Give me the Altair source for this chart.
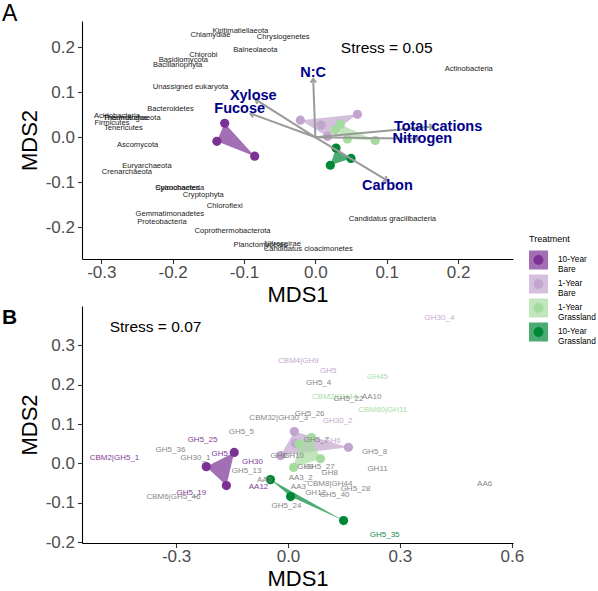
import math
import altair as alt
import pandas as pd

FONT = "Liberation Sans"
TREATMENTS = ["10-Year Bare", "1-Year Bare", "1-Year Grassland", "10-Year Grassland"]
PALETTE = ["#7b3294", "#c2a5cf", "#a6dba0", "#008837"]
GREY_LABEL = "#7f7f7f"

# ---------------- Panel A: taxa NMDS ----------------
a_site_group = (["10-Year Bare"] * 3 + ["1-Year Bare"] * 4
                + ["1-Year Grassland"] * 4 + ["10-Year Grassland"] * 3)
a_site_mds1 = [-0.127, -0.138, -0.085,
               -0.021, 0.059, 0.008, 0.017,
               0.035, 0.028, 0.045, 0.084,
               0.029, 0.050, 0.021]
a_site_mds2 = [0.031, -0.009, -0.042,
               0.038, 0.051, 0.027, 0.002,
               0.029, 0.016, -0.004, -0.007,
               -0.024, -0.047, -0.062]

a_taxa = ["Kiritimatiellaeota", "Chlamydiae", "Chrysiogenetes", "Balneolaeota",
          "Chlorobi", "Basidiomycota", "Bacillariophyta", "Unassigned eukaryota",
          "Bacteroidetes", "Acidobacteria", "Thaumarchaeota", "Thermotogae",
          "Firmicutes", "Tenericutes", "Ascomycota", "Euryarchaeota",
          "Crenarchaeota", "Cyanobacteria", "Spirochaetes", "Cryptophyta",
          "Chloroflexi", "Gemmatimonadetes", "Proteobacteria",
          "Coprothermobacterota", "Planctomycetes", "Nitrospirae",
          "Candidatus cloacimonetes", "Candidatus gracilibacteria", "Actinobacteria"]
a_taxa_mds1 = [-0.105, -0.147, -0.045, -0.084,
               -0.157, -0.185, -0.193, -0.175,
               -0.203, -0.278, -0.257, -0.266,
               -0.285, -0.269, -0.249, -0.236,
               -0.264, -0.190, -0.193, -0.157,
               -0.127, -0.204, -0.215,
               -0.116, -0.077, -0.046,
               -0.010, 0.108, 0.215]
a_taxa_mds2 = [0.236, 0.227, 0.222, 0.193,
               0.182, 0.171, 0.160, 0.111,
               0.062, 0.047, 0.042, 0.042,
               0.031, 0.020, -0.018, -0.064,
               -0.078, -0.113, -0.113, -0.127,
               -0.153, -0.171, -0.187,
               -0.207, -0.238, -0.236,
               -0.247, -0.182, 0.151]

a_vectors = ["N:C", "Total cations", "Nitrogen", "Carbon", "Xylose", "Fucose"]
a_vec_mds1 = [-0.003, 0.165, 0.145, 0.101, -0.084, -0.091]
a_vec_mds2 = [0.130, 0.024, -0.003, -0.096, 0.084, 0.053]
a_vec_lab_mds1 = [-0.003, 0.172, 0.150, 0.101, -0.087, -0.106]
a_vec_lab_mds2 = [0.142, 0.022, -0.004, -0.109, 0.091, 0.062]

# ---------------- Panel B: CAZyme NMDS ----------------
b_site_group = (["10-Year Bare"] * 3 + ["1-Year Bare"] * 4
                + ["1-Year Grassland"] * 4 + ["10-Year Grassland"] * 3)
b_site_mds1 = [-0.144, -0.219, -0.165,
               0.017, -0.020, 0.162, 0.020,
               0.063, 0.087, 0.015, 0.030,
               -0.047, 0.007, 0.149]
b_site_mds2 = [0.028, -0.008, -0.056,
               0.081, 0.020, 0.041, 0.051,
               0.066, 0.012, -0.010, 0.050,
               -0.041, -0.084, -0.145]

b_genes = ["GH30_4", "CBM4|GH9", "GH5", "GH5_4", "GH45", "CBM2|GH44", "GH5_22",
           "AA10", "CBM60|GH11", "GH5_26", "CBM32|GH30_3", "GH30_2", "GH5_5",
           "GH5_25", "GH5_36", "GH5", "GH30_1", "CBM2|GH5_1", "GH30", "GH5_13",
           "AA5", "AA12", "GH5_19", "CBM6|GH5_46", "GH5_24", "GH5_35", "AA6",
           "GH11", "GH5_8", "GH5_28", "GH5_40", "CBM8|GH44", "GH12", "AA3",
           "AA3_2", "GH8", "GH5_27", "GH9", "GH6", "GH10", "GH5_7", "GH6"]
b_gene_group = ["1-Year Bare", "1-Year Bare", "1-Year Bare", "none", "1-Year Grassland",
                "1-Year Grassland", "none", "none", "1-Year Grassland", "none", "none",
                "1-Year Bare", "none", "10-Year Bare", "none", "10-Year Bare", "none",
                "10-Year Bare", "10-Year Bare", "none", "none", "10-Year Bare",
                "10-Year Bare", "none", "none", "10-Year Grassland", "none", "none",
                "none", "none", "none", "none", "none", "none", "none", "none", "none",
                "none", "none", "none", "none", "1-Year Bare"]
b_gene_mds1 = [0.406, 0.028, 0.108, 0.082, 0.240, 0.125, 0.162,
               0.224, 0.254, 0.058, -0.025, 0.133, -0.125,
               -0.229, -0.315, -0.183, -0.248, -0.465, -0.095, -0.111,
               -0.063, -0.079, -0.259, -0.307, -0.004, 0.259, 0.527,
               0.240, 0.232, 0.181, 0.125, 0.112, 0.074, 0.028,
               0.034, 0.112, 0.085, 0.047, -0.025, 0.015, 0.076, 0.119]
b_gene_mds2 = [0.369, 0.260, 0.234, 0.204, 0.219, 0.170, 0.163,
               0.170, 0.135, 0.125, 0.115, 0.107, 0.081,
               0.059, 0.033, 0.025, 0.015, 0.013, 0.003, -0.018,
               -0.041, -0.059, -0.076, -0.086, -0.107, -0.181, -0.051,
               -0.015, 0.028, -0.064, -0.079, -0.051, -0.074, -0.061,
               -0.038, -0.023, -0.008, -0.010, 0.020, 0.020, 0.059, 0.056]

# ---------------- layout constants ----------------
W, H_A, H_B = 431, 238, 237
XA, YA = [-0.327, 0.277], [-0.270, 0.258]
XB, YB = [-0.552, 0.603], [-0.202, 0.400]


def hull_rows(groups, xs, ys):
    """Convex hull (monotone chain) of each treatment, returned as ordered vertices."""
    rows = []
    for g in TREATMENTS:
        pts = sorted({(x, y) for gg, x, y in zip(groups, xs, ys) if gg == g})
        if len(pts) < 3:
            hull = pts
        else:
            def cross(o, a, b):
                return (a[0] - o[0]) * (b[1] - o[1]) - (a[1] - o[1]) * (b[0] - o[0])
            lower, upper = [], []
            for p in pts:
                while len(lower) >= 2 and cross(lower[-2], lower[-1], p) <= 0:
                    lower.pop()
                lower.append(p)
            for p in reversed(pts):
                while len(upper) >= 2 and cross(upper[-2], upper[-1], p) <= 0:
                    upper.pop()
                upper.append(p)
            hull = lower[:-1] + upper[:-1]
        hull = hull + hull[:1]
        for i, (x, y) in enumerate(hull):
            rows.append({"Treatment": g, "MDS1": x, "MDS2": y, "vid": i})
    return pd.DataFrame(rows)


def minus_fix():
    return "replace(format(datum.value, '.1f'), '\u2212', '-')"


def xenc(field, dom, ticks):
    return alt.X(f"{field}:Q", title="MDS1",
                 scale=alt.Scale(domain=dom, nice=False, zero=False),
                 axis=alt.Axis(values=ticks, labelExpr=minus_fix(), labelPadding=1))


def yenc(field, dom, ticks):
    return alt.Y(f"{field}:Q", title="MDS2",
                 scale=alt.Scale(domain=dom, nice=False, zero=False),
                 axis=alt.Axis(values=ticks, labelExpr=minus_fix(), labelPadding=3))


# legend position is measured from the top-left corner of panel A's plot area;
# both keys use the same symbol box so their rows line up exactly
LEG_X, LEG_Y = 447, 213.5
SWATCH = 361
DOT_PATH = "M-0.52,0A0.52,0.52 0 1,0 0.52,0A0.52,0.52 0 1,0 -0.52,0Z"
leg_common = dict(orient="none", legendX=LEG_X, legendY=LEG_Y, symbolSize=SWATCH,
                  labelExpr="split(datum.label, ' ')", labelFont=FONT,
                  labelFontSize=8.3, labelOffset=10, symbolStrokeWidth=0,
                  titleFont=FONT, titleFontSize=9, titleFontWeight="normal",
                  titleColor="black", titlePadding=7, rowPadding=0, labelLimit=200)
legend_square = alt.Legend(title="Treatment", symbolType="square",
                           symbolOpacity=0.7, labelColor="black", **leg_common)
legend_dot = alt.Legend(title="Treatment ", symbolType=DOT_PATH, symbolOpacity=1,
                        labelOpacity=0, titleOpacity=0, **leg_common)

# hull polygons carry an explicit domain, the points a data-driven one, so that the
# two legends stay separate and can be stacked into one swatch-with-dot key
hull_color = alt.Color("Treatment:N", scale=alt.Scale(domain=TREATMENTS, range=PALETTE),
                       legend=legend_square)
point_fill = alt.Fill("Group:N", sort=TREATMENTS, scale=alt.Scale(range=PALETTE),
                      legend=legend_dot)


def sites_layers(groups, xs, ys, xdom, ydom, xt, yt):
    hull = hull_rows(groups, xs, ys)
    pts = pd.DataFrame({"Group": groups, "MDS1": xs, "MDS2": ys})
    hull_layer = alt.Chart(hull).mark_line(filled=True, fillOpacity=0.7, strokeWidth=0).encode(
        x=xenc("MDS1", xdom, xt), y=yenc("MDS2", ydom, yt),
        color=hull_color, order="vid:Q")
    point_layer = alt.Chart(pts).mark_circle(size=85, opacity=1).encode(
        x=xenc("MDS1", xdom, xt), y=yenc("MDS2", ydom, yt), fill=point_fill)
    return hull_layer, point_layer


def letter(t, y, bold):
    return alt.Chart(pd.DataFrame({"t": [t]})).mark_text(
        font=FONT, fontSize=23 if not bold else 21, fontWeight="bold" if bold else "normal",
        align="left", baseline="alphabetic", color="black").encode(
        x=alt.value(-80), y=alt.value(y), text="t:N")


# ---- Panel A ----
XT_A, YT_A = [-0.3, -0.2, -0.1, 0.0, 0.1, 0.2], [-0.2, -0.1, 0.0, 0.1, 0.2]
hullA, pointsA = sites_layers(a_site_group, a_site_mds1, a_site_mds2, XA, YA, XT_A, YT_A)

sx_a = W / (XA[1] - XA[0])
sy_a = H_A / (YA[1] - YA[0])
vec = pd.DataFrame({"name": a_vectors, "x0": 0.0, "y0": 0.0,
                    "MDS1": a_vec_mds1, "MDS2": a_vec_mds2,
                    "lx": a_vec_lab_mds1, "ly": a_vec_lab_mds2})
vec["ang"] = [math.degrees(math.atan2(x * sx_a, y * sy_a)) % 360
              for x, y in zip(vec["MDS1"], vec["MDS2"])]

arrowsA = alt.Chart(vec).mark_rule(color="#9a9a9a", strokeWidth=2).encode(
    x=xenc("x0", XA, XT_A), y=yenc("y0", YA, YT_A), x2="MDS1:Q", y2="MDS2:Q")
headsA = alt.Chart(vec).mark_point(shape="M-0.75,1L0,0L0.75,1", filled=False,
                                   color="#9a9a9a", strokeWidth=1.8, size=60, opacity=1).encode(
    x=xenc("MDS1", XA, XT_A), y=yenc("MDS2", YA, YT_A),
    angle=alt.Angle("ang:Q", scale=None))
vecLabA = alt.Chart(vec).mark_text(font=FONT, fontSize=14.5, fontWeight="bold",
                                   color="#00008b").encode(
    x=xenc("lx", XA, XT_A), y=yenc("ly", YA, YT_A), text="name:N")

taxa = pd.DataFrame({"taxon": a_taxa, "MDS1": a_taxa_mds1, "MDS2": a_taxa_mds2})
taxaA = alt.Chart(taxa).mark_text(font=FONT, fontSize=7.6, color="#222222").encode(
    x=xenc("MDS1", XA, XT_A), y=yenc("MDS2", YA, YT_A), text="taxon:N")

stressA = alt.Chart(pd.DataFrame({"MDS1": [0.100], "MDS2": [0.198], "t": ["Stress = 0.05"]})
                    ).mark_text(font=FONT, fontSize=15.5, color="black").encode(
    x=xenc("MDS1", XA, XT_A), y=yenc("MDS2", YA, YT_A), text="t:N")

panelA = alt.layer(hullA, pointsA, arrowsA, headsA, taxaA, vecLabA, stressA,
                   letter("A", 0, False)).properties(width=W, height=H_A)

# ---- Panel B ----
XT_B, YT_B = [-0.3, 0.0, 0.3, 0.6], [-0.2, -0.1, 0.0, 0.1, 0.2, 0.3]
hullB, pointsB = sites_layers(b_site_group, b_site_mds1, b_site_mds2, XB, YB, XT_B, YT_B)

genes = pd.DataFrame({"gene": b_genes, "grp": b_gene_group,
                      "MDS1": b_gene_mds1, "MDS2": b_gene_mds2})
label_colors = dict(zip(TREATMENTS, PALETTE))
label_colors["none"] = GREY_LABEL
gene_layers = []
for grp, col in label_colors.items():
    gene_layers.append(
        alt.Chart(genes[genes["grp"] == grp]).mark_text(
            font=FONT, fontSize=8, color=col, opacity=0.95).encode(
            x=xenc("MDS1", XB, XT_B), y=yenc("MDS2", YB, YT_B), text="gene:N"))

stressB = alt.Chart(pd.DataFrame({"MDS1": [-0.355], "MDS2": [0.346], "t": ["Stress = 0.07"]})
                    ).mark_text(font=FONT, fontSize=15.5, color="black").encode(
    x=xenc("MDS1", XB, XT_B), y=yenc("MDS2", YB, YT_B), text="t:N")

panelB = alt.layer(hullB, pointsB, *gene_layers, stressB,
                   letter("B", 18, True)).properties(width=W, height=H_B)

chart = alt.vconcat(panelA, panelB, spacing=0).properties(
    padding={"left": 2, "top": 3, "right": 0, "bottom": 0}
).configure_view(stroke=None).configure_axis(
    grid=False, domainColor="black", domainWidth=1.1, tickColor="#333333",
    tickSize=4.5, tickWidth=1.1, labelFont=FONT, labelFontSize=17, labelColor="#4d4d4d",
    titleFont=FONT, titleFontSize=22, titleFontWeight="normal", titleColor="black",
    titlePadding=4
)

chart.save("out.html", embed_options={"renderer": "svg", "actions": False})
